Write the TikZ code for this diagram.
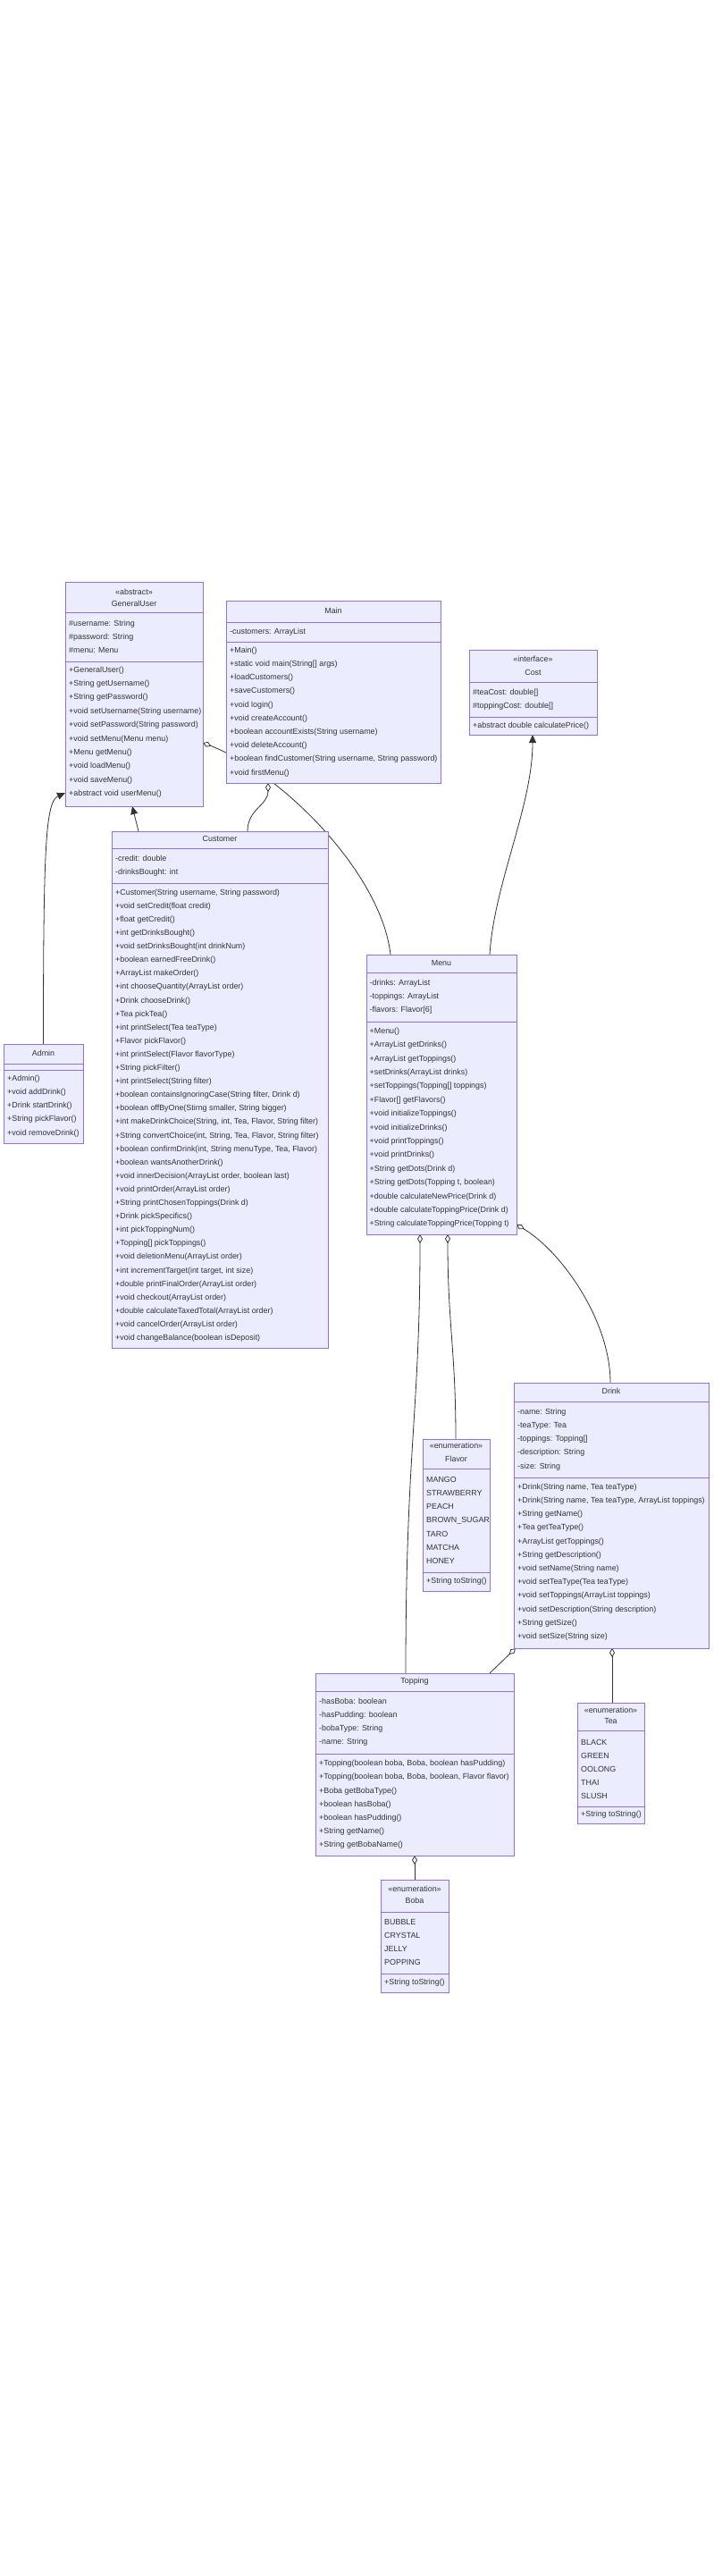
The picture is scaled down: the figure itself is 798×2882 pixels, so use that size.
\documentclass[tikz,border=0pt]{standalone}
\usepackage{fontspec}
\setmainfont{Liberation Sans}
\usetikzlibrary{arrows.meta}
\pgfdeclarelayer{bg}
\pgfdeclarelayer{edges}
\pgfsetlayers{bg,edges,main}
\definecolor{boxfill}{HTML}{ECECFF}
\definecolor{boxline}{HTML}{9370DB}
\definecolor{edgecol}{HTML}{333333}
\definecolor{txtcol}{HTML}{333333}
\newcommand\ubox[5]{\node[umlbox, minimum width={(#4-#2)*1pt}, minimum height={(#5-#3)*1pt}] (#1) at (#2,#3) {};}
\newcommand\usep[3]{\draw[sepline] (#2,#1) -- (#3,#1);}
\newcommand\mlist[5]{\foreach \mtxt [count=\mnum] in {#5} {\node[member] (#1-\mnum) at (#2,{#3+(\mnum-1)*#4}) {\mtxt};}}
\newcommand\narrow[1]{{\fontsize{8.7}{10}\selectfont #1}}
\tikzset{
  umlbox/.style={draw=boxline, fill=boxfill, line width=0.9pt, anchor=north west, inner sep=0pt, outer sep=0pt},
  sepline/.style={draw=boxline, line width=0.9pt},
  member/.style={anchor=west, inner sep=0pt, text=txtcol, font=\fontsize{8.9}{10}\selectfont, text height=6.4pt, text depth=1.9pt},
  ttl/.style={anchor=center, inner sep=0pt, text=txtcol, font=\fontsize{8.9}{10}\selectfont, text height=6.4pt, text depth=1.9pt},
  conn/.style={draw=edgecol, line width=0.8pt},
  agg/.style={conn, {Diamond[fill=white, length=10pt, width=6pt]}-},
  inh/.style={conn, -{Triangle[length=9pt, width=8pt]}}
}
\begin{document}
\begin{tikzpicture}[x=1pt, y=-1pt]
\begin{pgfonlayer}{bg}
\fill[white] (0,0) rectangle (798,2882);
\end{pgfonlayer}
\useasboundingbox (0,0) rectangle (798,2882);

% GeneralUser
\ubox{gu}{73}{651}{227}{902}
\usep{685}{73}{227}\usep{740}{73}{227}
\node[ttl] (gu-s) at (150,663) {«abstract»};
\node[ttl] (gu-t) at (150,676) {GeneralUser};
\mlist{gua}{77}{698}{15}{{\#username: String},{\#password: String},{\#menu: Menu}}
\mlist{gum}{77}{750}{15.35}{{+GeneralUser()},{+String getUsername()},{+String getPassword()},{+void setUsername(String username)},{+void setPassword(String password)},{+void setMenu(Menu menu)},{+Menu getMenu()},{+void loadMenu()},{+void saveMenu()},{+abstract void userMenu()}}

% Main
\ubox{mn}{253}{672}{493}{876}
\usep{696}{253}{493}\usep{718}{253}{493}
\node[ttl] (mn-t) at (373,684) {Main};
\mlist{mna}{257}{707}{15}{{-customers: ArrayList}}
\mlist{mnm}{257}{728}{15.2}{{+Main()},{+static void main(String[] args)},{+loadCustomers()},{+saveCustomers()},{+void login()},{+void createAccount()},{+boolean accountExists(String username)},{+void deleteAccount()},{+boolean findCustomer(String username, String password)},{+void firstMenu()}}

% Cost
\ubox{co}{525}{727}{668}{822}
\usep{763}{525}{668}\usep{802}{525}{668}
\node[ttl] (co-s) at (596.5,738) {«interface»};
\node[ttl] (co-t) at (596.5,753) {Cost};
\mlist{coa}{529}{775}{15.5}{{\#teaCost: double[]},{\#toppingCost: double[]}}
\mlist{com}{529}{812}{15}{{+abstract double calculatePrice()}}

% Admin
\ubox{ad}{4}{1168}{93}{1279}
\usep{1190}{4}{93}\usep{1197}{4}{93}
\node[ttl] (ad-t) at (48.5,1179) {Admin};
\mlist{adm}{8}{1207}{15.2}{{+Admin()},{+void addDrink()},{+Drink startDrink()},{+String pickFlavor()},{+void removeDrink()}}

% Customer
\ubox{cu}{125}{930}{367}{1508}
\usep{949}{125}{367}\usep{988}{125}{367}
\node[ttl] (cu-t) at (246,939.5) {Customer};
\mlist{cua}{129}{961}{15}{{-credit: double},{-drinksBought: int}}
\mlist{cum}{129}{999}{15.1}{{+Customer(String username, String password)},{+void setCredit(float credit)},{+float getCredit()},{+int getDrinksBought()},{+void setDrinksBought(int drinkNum)},{+boolean earnedFreeDrink()},{+ArrayList makeOrder()},{+int chooseQuantity(ArrayList order)},{+Drink chooseDrink()},{+Tea pickTea()},{+int printSelect(Tea teaType)},{+Flavor pickFlavor()},{+int printSelect(Flavor flavorType)},{+String pickFilter()},{+int printSelect(String filter)},{+boolean containsIgnoringCase(String filter, Drink d)},{+boolean offByOne(Stirng smaller, String bigger)},{+int makeDrinkChoice(String, int, Tea, Flavor, String filter)},{+String convertChoice(int, String, Tea, Flavor, String filter)},{+boolean confirmDrink(int, String menuType, Tea, Flavor)},{+boolean wantsAnotherDrink()},{+void innerDecision(ArrayList order, boolean last)},{+void printOrder(ArrayList order)},{+String printChosenToppings(Drink d)},{+Drink pickSpecifics()},{+int pickToppingNum()},{+Topping[] pickToppings()},{+void deletionMenu(ArrayList order)},{+int incrementTarget(int target, int size)},{+double printFinalOrder(ArrayList order)},{+void checkout(ArrayList order)},{+double calculateTaxedTotal(ArrayList order)},{+void cancelOrder(ArrayList order)},{+void changeBalance(boolean isDeposit)}}

% Menu
\ubox{me}{410}{1068}{578}{1381}
\usep{1088}{410}{578}\usep{1143}{410}{578}
\node[ttl] (me-t) at (494,1078) {Menu};
\mlist{mea}{413.5}{1100}{15.3}{{-drinks: ArrayList},{-toppings: ArrayList},{-flavors: Flavor[6]}}
\mlist{mem}{413.5}{1154}{15.4}{{+Menu()},{+ArrayList getDrinks()},{+ArrayList getToppings()},{+setDrinks(ArrayList drinks)},{+setToppings(Topping[] toppings)},{+Flavor[] getFlavors()},{+void initializeToppings()},{+void initializeDrinks()},{+void printToppings()},{+void printDrinks()},{+String getDots(Drink d)},{+String getDots(Topping t, boolean)},{+double calculateNewPrice(Drink d)},{+double calculateToppingPrice(Drink d)},{\narrow{+String calculateToppingPrice(Topping t)}}}

% Drink
\ubox{dr}{575}{1547}{793}{1844}
\usep{1568}{575}{793}\usep{1653}{575}{793}
\node[ttl] (dr-t) at (684,1557.5) {Drink};
\mlist{dra}{579}{1580}{15.2}{{-name: String},{-teaType: Tea},{-toppings: Topping[]},{-description: String},{-size: String}}
\mlist{drm}{579}{1664}{15.2}{{+Drink(String name, Tea teaType)},{+Drink(String name, Tea teaType, ArrayList toppings)},{+String getName()},{+Tea getTeaType()},{+ArrayList getToppings()},{+String getDescription()},{+void setName(String name)},{+void setTeaType(Tea teaType)},{+void setToppings(ArrayList toppings)},{+void setDescription(String description)},{+String getSize()},{+void setSize(String size)}}

% Flavor
\ubox{fl}{473}{1610}{548}{1780}
\usep{1643}{473}{548}\usep{1759}{473}{548}
\node[ttl] (fl-s) at (510.5,1618) {«enumeration»};
\node[ttl] (fl-t) at (510.5,1633) {Flavor};
\mlist{fla}{477}{1656}{15.2}{{MANGO},{STRAWBERRY},{PEACH},{BROWN\_SUGAR},{TARO},{MATCHA},{HONEY}}
\mlist{flm}{477}{1769.5}{15}{{+String toString()}}

% Tea
\ubox{te}{646}{1905}{721}{2040}
\usep{1936}{646}{721}\usep{2021}{646}{721}
\node[ttl] (te-s) at (683.5,1914) {«enumeration»};
\node[ttl] (te-t) at (683.5,1926) {Tea};
\mlist{tea}{650}{1950}{15}{{BLACK},{GREEN},{OOLONG},{THAI},{SLUSH}}
\mlist{tem}{650}{2030.5}{15}{{+String toString()}}

% Topping
\ubox{to}{353}{1872}{575}{2076}
\usep{1892}{353}{575}\usep{1962}{353}{575}
\node[ttl] (to-t) at (464,1881.5) {Topping};
\mlist{toa}{357}{1904}{15.2}{{-hasBoba: boolean},{-hasPudding: boolean},{-bobaType: String},{-name: String}}
\mlist{tom}{357}{1973.5}{15.2}{{+Topping(boolean boba, Boba, boolean hasPudding)},{+Topping(boolean boba, Boba, boolean, Flavor flavor)},{+Boba getBobaType()},{+boolean hasBoba()},{+boolean hasPudding()},{+String getName()},{+String getBobaName()}}

% Boba
\ubox{bo}{426}{2103}{502}{2229}
\usep{2139}{426}{502}\usep{2208}{426}{502}
\node[ttl] (bo-s) at (464,2114) {«enumeration»};
\node[ttl] (bo-t) at (464,2127) {Boba};
\mlist{boa}{430}{2151}{15.2}{{BUBBLE},{CRYSTAL},{JELLY},{POPPING}}
\mlist{bom}{430}{2218}{15}{{+String toString()}}

% connectors
\begin{pgfonlayer}{edges}
\draw[inh] (ad.north) .. controls +(0,-220) and +(-22,10) .. ([yshift=15pt]gu.south west);
\draw[inh] ([xshift=30pt]cu.north west) -- ([xshift=75pt]gu.south west);
\draw[agg] ([xshift=47pt]mn.south west) .. controls +(0,25) and +(0,-25) .. ([xshift=152pt]cu.north west);
\draw[agg] ([yshift=71pt]gu.south east) .. controls +(90,35) and +(-10,-90) .. ([xshift=27pt]me.north west);
\draw[inh] ([xshift=138pt]me.north west) .. controls +(5,-80) and +(0,80) .. ([xshift=71pt]co.south west);
\draw[agg] ([yshift=11pt]me.south east) .. controls +(50,30) and +(0,-70) .. ([xshift=108pt]dr.north west);
\draw[agg] ([xshift=60pt]me.south west) .. controls +(0,200) and +(0,-250) .. ([xshift=101pt]to.north west);
\draw[agg] ([xshift=91pt]me.south west) .. controls +(0,100) and +(0,-100) .. ([xshift=37pt]fl.north west);
\draw[agg] ([xshift=2pt]dr.south west) -- ([xshift=195pt]to.north west);
\draw[agg] ([xshift=110pt]dr.south west) -- ([xshift=39pt]te.north west);
\draw[agg] ([xshift=111pt]to.south west) -- ([xshift=38pt]bo.north west);
\end{pgfonlayer}
\end{tikzpicture}
\end{document}
